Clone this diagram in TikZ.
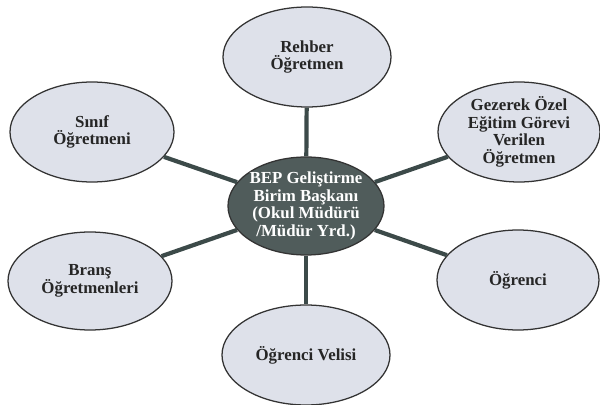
\documentclass[tikz,border=0pt]{standalone}
\usepackage{fontspec}
\setmainfont{Liberation Serif}
\usetikzlibrary{shapes.geometric}
\definecolor{kabuk}{HTML}{DEE1EA}
\definecolor{gobek}{HTML}{505C5B}
\definecolor{hat}{HTML}{3C4A49}

\begin{document}
\begin{tikzpicture}[every node/.style={font=\fontsize{12}{12.5}\selectfont\bfseries, align=center, ellipse, inner sep=-8pt},
    leaf/.style={draw=black!80, line width=0.9pt, fill=kabuk, text=black!85, minimum width=4.1cm, minimum height=2.5cm},
    hub/.style={draw=black!80, line width=0.9pt, fill=gobek, text=white, minimum width=3.9cm, minimum height=2.45cm},
    link/.style={draw=hat, line width=3pt}]
    \useasboundingbox (0,0) rectangle (15,10.125);
    % merkez
    \node[hub] (bep) at (7.65,4.975) {BEP Geliştirme\\Birim Başkanı\\(Okul Müdürü\\/Müdür Yrd.)};
    % dallar
    \node[leaf, minimum width=4.2cm] (rehber) at (7.675,8.7) {Rehber\\Öğretmen};
    \node[leaf, minimum width=4.05cm] (gezerek) at (12.975,6.825) {Gezerek Özel\\Eğitim Görevi\\Verilen\\Öğretmen};
    \node[leaf] (sinif) at (2.3,6.825) {Sınıf\\Öğretmeni};
    \node[leaf, minimum height=2.45cm] (brans) at (2.25,3.1) {Branş\\Öğretmenleri};
    \node[leaf, minimum width=4.05cm] (ogrenci) at (12.95,3.125) {Öğrenci};
    \node[leaf, minimum width=4.2cm] (veli) at (7.65,1.25) {Öğrenci Velisi};
    % baglar
    \draw[link] (bep) -- (rehber);
    \draw[link] (bep) -- (gezerek);
    \draw[link] (bep) -- (sinif);
    \draw[link] (bep) -- (brans);
    \draw[link] (bep) -- (ogrenci);
    \draw[link] (bep) -- (veli);
\end{tikzpicture}
\end{document}
